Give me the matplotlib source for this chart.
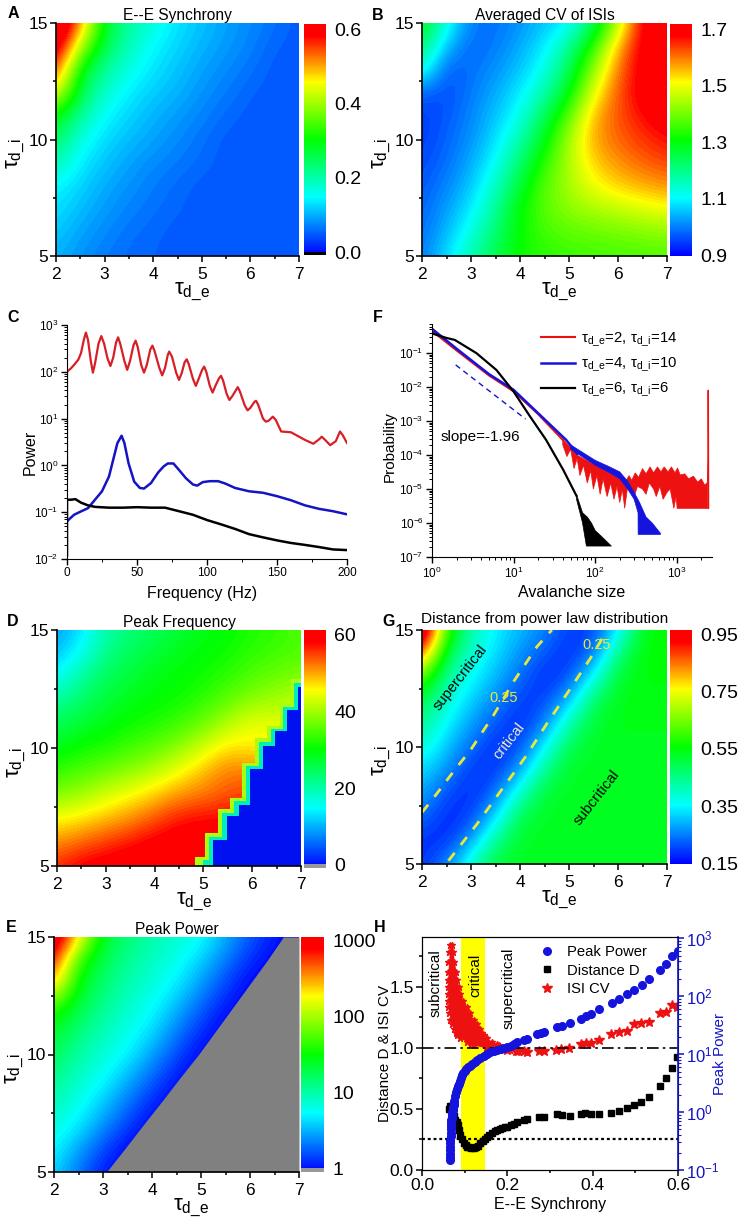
# ── imports ────────────────────────────────────────────────────────────────
import numpy as np
import matplotlib
matplotlib.use('Agg')
import matplotlib.pyplot as plt
from matplotlib.colors import LinearSegmentedColormap, Normalize
from matplotlib.cm import ScalarMappable
from matplotlib.ticker import MultipleLocator, FixedLocator, LogLocator, NullFormatter

plt.rcParams['font.family'] = ['Liberation Sans', 'DejaVu Sans']
plt.rcParams['mathtext.default'] = 'regular'
plt.rcParams['mathtext.fontset'] = 'dejavusans'

W, H = 741, 1226

# ── heat map grids (rows tau_d_i = 5..15, columns tau_d_e = 2..7) ──────────
tau_e = [2, 2.5, 3, 3.5, 4, 4.5, 5, 5.5, 6, 6.5, 7]
tau_i = [5, 6, 7, 8, 9, 10, 11, 12, 13, 14, 15]

synchrony = [
    [.105, .085, .07, .06, .055, .05, .05, .05, .05, .05, .05],
    [.12, .095, .08, .065, .058, .05, .05, .05, .05, .05, .05],
    [.135, .11, .09, .075, .065, .056, .05, .05, .05, .05, .05],
    [.148, .125, .10, .085, .07, .06, .05, .05, .05, .05, .05],
    [.20, .14, .115, .095, .08, .07, .06, .05, .05, .05, .05],
    [.25, .165, .13, .11, .095, .08, .065, .05, .05, .05, .05],
    [.30, .21, .148, .125, .105, .09, .075, .06, .05, .05, .05],
    [.45, .26, .18, .14, .12, .105, .085, .07, .055, .05, .05],
    [.56, .29, .21, .165, .135, .115, .095, .08, .065, .05, .05],
    [.64, .41, .26, .19, .148, .125, .105, .09, .075, .055, .05],
    [.70, .52, .28, .21, .17, .135, .115, .095, .08, .065, .05],
]

isi_cv = [
    [1.0, 1.08, 1.17, 1.25, 1.32, 1.34, 1.35, 1.36, 1.36, 1.37, 1.37],
    [.99, 1.05, 1.13, 1.22, 1.31, 1.36, 1.38, 1.39, 1.40, 1.41, 1.42],
    [.98, 1.03, 1.09, 1.19, 1.31, 1.38, 1.42, 1.44, 1.46, 1.48, 1.50],
    [.97, 1.01, 1.06, 1.15, 1.27, 1.38, 1.44, 1.50, 1.54, 1.56, 1.58],
    [.96, .99, 1.04, 1.11, 1.22, 1.34, 1.45, 1.54, 1.58, 1.61, 1.63],
    [.95, .98, 1.02, 1.08, 1.17, 1.29, 1.44, 1.57, 1.61, 1.64, 1.67],
    [.95, .97, 1.01, 1.06, 1.12, 1.24, 1.38, 1.56, 1.62, 1.67, 1.70],
    [.98, .96, 1.0, 1.04, 1.09, 1.17, 1.29, 1.50, 1.62, 1.70, 1.72],
    [1.15, .97, .99, 1.02, 1.06, 1.12, 1.24, 1.42, 1.60, 1.70, 1.72],
    [1.23, 1.05, .98, 1.0, 1.04, 1.09, 1.19, 1.34, 1.56, 1.70, 1.72],
    [1.31, 1.13, 1.0, .99, 1.02, 1.06, 1.09, 1.23, 1.44, 1.70, 1.72],
]

peak_freq = [
    [56, 59, 60, 61, 61, 61, 61, 61, 61, 61, 61],
    [51, 53, 55, 57, 59, 60, 60, 60, 60, 60, 60],
    [45.5, 47, 49, 51, 54, 57, 58, 58, 58, 58, 58],
    [38, 40, 43, 45.5, 48, 51, 52, 54, 55, 55, 55],
    [33, 35, 37, 39, 41.5, 45, 49, 52, 52, 52, 52],
    [29, 31, 32, 34, 36, 39, 43, 47.5, 46, 46, 46],
    [25, 27.5, 29, 31, 32, 34, 37, 41, 45, 44, 44],
    [21, 24, 27, 29, 30, 31, 33, 36, 39, 40, 42],
    [15, 21, 25, 27, 29, 30, 31, 33, 35, 37, 38],
    [11, 16, 22, 25, 27, 29, 30, 31, 33, 34, 35],
    [9, 13, 20, 23, 25, 27, 29, 30, 32, 33, 35],
]
# stair edge of the zero-frequency region in panel D
freq_edge_y = [5, 5.38, 6.41, 7.42, 7.89, 9.37, 10.42, 10.92, 11.9, 12.92]
freq_edge_x = [4.83, 5.03, 5.3, 5.55, 5.79, 6.06, 6.3, 6.56, 6.79, 6.79]
freq_mid_y = [5, 5.25, 6.25, 7.25, 7.75, 9.25, 10.25, 10.8, 11.75, 12.75]
freq_mid_x = [5.0, 5.12, 5.39, 5.63, 5.87, 6.14, 6.38, 6.63, 6.86, 6.86]
freq_blue_y = [5, 6.1, 7.1, 7.6, 9.1, 10.1, 10.7, 11.6, 12.6]
freq_blue_x = [5.2, 5.48, 5.72, 5.96, 6.23, 6.47, 6.71, 6.93, 6.93]

# log10 of peak power
peak_power = [
    [.62, .32, .04, -.03, -.04, -.04, -.04, -.04, -.04, -.04, -.04],
    [.75, .47, .20, -.03, -.04, -.04, -.04, -.04, -.04, -.04, -.04],
    [.85, .69, .42, .16, -.03, -.04, -.04, -.04, -.04, -.04, -.04],
    [.98, .80, .60, .34, .09, -.04, -.04, -.04, -.04, -.04, -.04],
    [1.1, .90, .76, .52, .28, .03, -.04, -.04, -.04, -.04, -.04],
    [1.25, 1.02, .86, .72, .46, .20, -.03, -.04, -.04, -.04, -.04],
    [1.4, 1.14, .96, .80, .65, .36, .10, -.04, -.04, -.04, -.04],
    [1.65, 1.3, 1.07, .90, .76, .53, .27, .03, -.04, -.04, -.04],
    [2.4, 1.45, 1.17, .98, .84, .70, .44, .18, -.03, -.04, -.04],
    [2.9, 1.6, 1.27, 1.07, .92, .80, .60, .34, .10, -.04, -.04],
    [3.3, 2.35, 1.38, 1.17, 1.0, .88, .78, .50, .25, .05, -.04],
]
power_edge_y = [5, 6, 7, 8, 9, 10, 11, 12, 13, 14, 15]
power_edge_x = [3.07, 3.45, 3.82, 4.2, 4.57, 4.95, 5.3, 5.65, 6.0, 6.35, 6.68]

distance = [
    [.19, .26, .40, .52, .53, .53, .53, .53, .53, .53, .53],
    [.19, .18, .28, .44, .53, .53, .53, .53, .53, .53, .53],
    [.24, .18, .20, .33, .50, .53, .53, .53, .53, .53, .53],
    [.29, .21, .18, .24, .40, .52, .53, .53, .53, .53, .53],
    [.33, .27, .19, .19, .28, .45, .53, .53, .53, .53, .53],
    [.39, .31, .24, .18, .21, .35, .50, .53, .53, .53, .53],
    [.45, .35, .28, .22, .18, .25, .42, .52, .54, .54, .54],
    [.50, .39, .32, .26, .20, .20, .30, .48, .54, .54, .54],
    [.64, .43, .36, .30, .24, .18, .21, .36, .52, .55, .55],
    [.88, .50, .39, .33, .27, .22, .18, .24, .46, .55, .56],
    [1.1, .60, .42, .35, .30, .26, .20, .20, .33, .54, .56],
]
crit_left_x = [2, 2.3, 2.66, 2.99, 3.46, 3.87, 4.35, 4.65]
crit_left_y = [7.2, 8, 9, 9.87, 11.36, 12.8, 14.3, 15]
crit_right_x = [2.54, 3.12, 3.6, 4.11, 4.55, 5.03, 5.44, 5.78]
crit_right_y = [5.14, 6.7, 8.1, 9.57, 11, 12.5, 13.8, 15]

# ── panel C: power spectra ─────────────────────────────────────────────────
red_f = [0, 0, 3, 5, 8, 10, 12, 13.5, 15, 17, 18.5, 20, 22.5, 24.5, 26.5, 29, 31, 33, 35, 36.5, 38,
         41, 43, 45, 47.5, 49, 50.5, 53, 55, 57, 59.5, 61, 62.5, 66, 68, 70, 72, 73, 75, 78, 80,
         82, 84, 85.5, 87, 90, 92, 94, 96.5, 98, 99.5, 102, 104, 106, 108.5, 110, 111.5, 114, 116,
         118, 121, 122, 123.5, 127, 129, 131, 134, 135, 136.5, 140, 142, 144, 147, 149, 153, 160,
         170, 176, 180, 182, 184, 188, 192, 195, 197, 200]
red_power = [.5, 100, 120, 140, 180, 250, 480, 690, 480, 170, 96, 150, 400, 580, 400, 190, 133, 200, 420,
             545, 400, 170, 110, 170, 370, 463, 340, 140, 96, 140, 300, 362, 280, 120, 84, 120, 230,
             270, 210, 95, 67, 95, 160, 185, 145, 70, 50, 70, 110, 129, 100, 50, 36, 50, 72, 82, 65,
             34, 25, 30, 42, 47, 38, 19, 15, 17, 23, 24, 20, 10, 8.6, 9, 11, 9.5, 5.3, 5.1, 3.5,
             2.9, 3.6, 4.1, 3.6, 2.7, 3.3, 5.3, 4.4, 3.0]
blue_f = [0, 5, 10, 15, 20, 25, 30, 33, 36, 39, 41, 44, 48, 52, 55, 60, 65, 69, 72, 76, 80, 85, 90, 93,
          97, 102, 108, 113, 120, 130, 140, 150, 160, 170, 180, 190, 200]
blue_power = [.064, .088, .104, .122, .185, .28, .58, 1.32, 3, 4.3, 3, 1.1, .45, .33, .32, .42, .7, .95,
              1.1, 1.1, .8, .53, .39, .37, .44, .46, .46, .41, .33, .28, .26, .22, .18, .14, .118,
              .105, .09]
black_f = [0, 0, 3, 6, 10, 15, 20, 30, 40, 50, 60, 70, 80, 90, 100, 110, 120, 130, 140, 150, 160, 170,
           180, 190, 200]
black_power = [.012, .185, .185, .19, .16, .14, .13, .125, .125, .128, .125, .125, .105, .088, .068, .055,
               .044, .034, .029, .025, .022, .02, .018, .016, .0155]

# ── panel F: avalanche size distributions ──────────────────────────────────
red_s = [1, 2, 5, 10, 20, 40]
red_p = [.45, .12, .022, .0075, .0016, 2.8e-4]
red_hi_s = [40, 60, 100, 200, 230, 260, 280, 310, 340, 380, 420, 470, 520, 580, 640, 700, 780, 860, 950,
            1020, 1100, 1250, 1400, 1600, 1800, 2000, 2200, 2400]
red_hi_p = [3e-4, 1e-4, 5e-5, 2e-5, 1.5e-5, 2.5e-5, 1.8e-5, 3e-5, 2.2e-5, 4e-5, 2.8e-5, 4.5e-5, 3e-5,
            4.5e-5, 3.2e-5, 4.5e-5, 3.2e-5, 4.5e-5, 3e-5, 4.2e-5, 2.6e-5, 2.8e-5, 2e-5, 2.4e-5, 1.6e-5,
            2e-5, 1.3e-5, 1.6e-5]
red_lo_s = [40, 45, 50, 55, 60, 65, 72, 80, 88, 95, 105, 115, 125, 140, 155, 170, 185, 200, 215, 230, 250,
            300, 330, 380, 420, 460, 520, 560, 620, 680, 760, 830, 920, 980, 1010, 2400]
red_lo_p = [2e-4, 9e-5, 1.5e-4, 4e-5, 8e-5, 2.5e-5, 5e-5, 1.5e-5, 3.5e-5, 1e-5, 2.5e-5, 7e-6, 2e-5, 6e-6,
            1.5e-5, 5e-6, 1.2e-5, 4e-6, 1e-5, 2.7e-6, 1.2e-5, 6e-6, 1.2e-5, 1e-5, 7e-6, 1.5e-5, 1e-5, 6e-6,
            1.2e-5, 5e-6, 8e-6, 1e-5, 2.7e-6, 6e-6, 2.7e-6, 2.7e-6]
red_spike_s = [2400, 2430, 2430, 2450]
red_spike_p = [1.5e-5, 1e-4, 8e-3, 2.7e-6]
blue_s = [1, 2, 5, 10, 20, 44, 60]
blue_p = [.52, .135, .024, .0083, .0017, 2.8e-4, 1.1e-4]
blue_hi_s = [50, 100, 150, 200, 250, 300, 350, 420, 500, 630]
blue_hi_p = [2e-4, 7e-5, 4.5e-5, 3.2e-5, 1.7e-5, 8e-6, 4e-6, 1.5e-6, 1e-6, 5e-7]
blue_lo_s = [50, 100, 150, 200, 250, 300, 335, 336, 630]
blue_lo_p = [1.5e-4, 5e-5, 3e-5, 2e-5, 1e-5, 5e-6, 2e-6, 4.6e-7, 4.6e-7]
black_s = [1, 1.5, 1.9, 3.5, 6.15, 10, 15.8, 25, 40.5, 59]
black_p = [.38, .28, .245, .10, .032, .0074, .0014, 2.8e-4, 3.7e-5, 6.3e-6]
black_hi_s = [59, 70, 80, 90, 100, 120, 158]
black_hi_p = [7e-6, 2e-6, 1.5e-6, 1e-6, 6e-7, 4e-7, 2.1e-7]
black_lo_s = [59, 70, 78, 158]
black_lo_p = [5e-6, 1e-6, 2.1e-7, 2.1e-7]
slope_s = [1.95, 14]
slope_p = [.045, .00115]

# ── panel H: statistics against synchrony ──────────────────────────────────
pw_x = [.0655, .0657, .0659, .0661, .0663, .0665, .0667, .0669, .067, .0675, .068, .0685, .069, .0695, .07,
        .071, .072, .073, .074, .075, .076, .078, .08, .082, .084, .086, .088, .091, .094,
        .097, .10, .104, .108, .113, .118, .124, .13, .137, .145, .152, .16, .168, .176, .184, .192, .20,
        .208, .215, .223, .24, .246, .27, .278, .285, .317, .327, .346, .372, .385, .395, .415, .446, .462,
        .481, .497, .516, .532, .558, .571, .587, .599]
pw_y = [.15, .17, .19, .22, .25, .29, .33, .38, .43, .5, .58, .65, .72, .8, .9, 1.0, 1.1, 1.2,
        1.3, 1.42, 1.55, 1.93, 2.2, 2.5, 2.8, 3.1, 3.5, 3.9, 4.3, 4.7, 5.1, 5.5, 5.9, 6.3, 6.8, 7.3, 7.9,
        8.5, 9.3, 10, 10.8, 11.3, 11.8, 12.2, 12.7, 13.2, 14, 15, 16, 17.5, 18, 22, 23, 24.5, 29, 31, 34,
        40, 45, 49, 59, 75, 91, 110, 129, 159, 200, 288, 355, 490, 603]
dist_x = [.064, .065, .066, .0665, .067, .068, .07, .072, .075, .078, .081, .084, .087, .09, .094, .098, .102,
          .106, .11, .115, .121, .126, .131, .137, .142, .147, .153, .158, .164, .17, .176, .182, .188, .194,
          .20, .208, .215, .223, .24, .246, .274, .285, .317, .329, .346, .372, .383, .395, .415, .444, .462,
          .481, .497, .514, .532, .558, .571, .587, .597]
dist_y = [.5, .52, .51, .5, .52, .5, .49, .47, .44, .41, .39, .37, .33, .29, .25, .22, .205, .19, .185, .18,
          .177, .185, .2, .218, .235, .25, .27, .285, .3, .315, .327, .335, .345, .35, .354, .37, .38, .395,
          .41, .415, .436, .436, .455, .45, .444, .458, .463, .455, .458, .47, .485, .504, .53, .558, .6, .687,
          .755, .836, .926]
fan_y = [1.84, 1.78, 1.7, 1.62, 1.55, 1.5, 1.44, 1.38, 1.33, 1.28, 1.226, 1.19, 1.15, 1.12, 1.1, 1.076, 1.05,
         1.03, 1.02, 1.0, .98]
fan_left = [.066, .064, .062, .061, .06, .06, .06, .061, .062, .064, .0665, .07, .074, .079, .083, .09, .105,
            .115, .121, .15, .176]
fan_right = [.07, .073, .076, .08, .083, .086, .09, .097, .105, .113, .121, .129, .137, .141, .145, .152, .165,
             .175, .18, .195, .207]
cv_x = [.20, .22, .225, .24, .245, .275, .285, .315, .325, .345, .372, .385, .395, .415, .444, .462, .481,
        .497, .514, .532, .558, .571, .587, .597]
cv_y = [.98, .97, .97, .97, .965, .97, .97, .985, .99, 1.0, 1.03, 1.04, 1.04, 1.06, 1.11, 1.13, 1.14, 1.19,
        1.2, 1.21, 1.28, 1.29, 1.35, 1.33]

# ── shared styling ─────────────────────────────────────────────────────────
jet = LinearSegmentedColormap.from_list(
    'origin_rainbow',
    [(0, '#0000ff'), (.25, '#00ffff'), (.5, '#00ff00'), (.75, '#ffff00'), (.95, '#ff0000'), (1, '#ff0000')],
    N=256)
jet_bands = jet.resampled(80)

TAU_E = r'$\tau_{d\_e}$'
TAU_I = r'$\tau_{d\_i}$'

fig = plt.figure(figsize=(W / 100, H / 100), dpi=100)


def add_ax(left, top, right, bottom):
    return fig.add_axes([left / W, 1 - bottom / H, (right - left) / W, (bottom - top) / H])


def letter(s, x, y):
    fig.text(x / W, 1 - y / H, s, fontsize=11.5, fontweight='bold', ha='center', va='center')


def heatmap(box, cbox, data, vmin, vmax, ticks, labels, title, label_x, floor=None, title_size=11.2, title_pad=2.5):
    ax = add_ax(*box)
    # half a cell past the axes so grid nodes sit on the axis limits
    ax.imshow(data, origin='lower', extent=[1.75, 7.25, 4.5, 15.5], aspect='auto', cmap=jet_bands,
              vmin=vmin, vmax=vmax, interpolation='bicubic', interpolation_stage='data')
    ax.set_xlim(2, 7)
    ax.set_ylim(5, 15)
    ax.xaxis.set_major_locator(MultipleLocator(1))
    ax.xaxis.set_minor_locator(MultipleLocator(.5))
    ax.yaxis.set_major_locator(FixedLocator([5, 10, 15]))
    ax.yaxis.set_minor_locator(FixedLocator([7.5, 12.5]))
    ax.tick_params(which='major', length=4, width=1.1, labelsize=12.5, pad=2)
    ax.tick_params(axis='x', which='major', pad=4)
    ax.tick_params(which='minor', length=2.5, width=1.1)
    ax.spines[['top', 'right']].set_visible(False)
    ax.spines[['left', 'bottom']].set_linewidth(1.2)
    ax.set_title(title, fontsize=title_size, pad=title_pad)
    ax.set_xlabel(TAU_E, fontsize=16, labelpad=0)
    ax.xaxis.set_label_coords(.56, -.105)
    ax.set_ylabel(TAU_I, fontsize=16)
    ax.yaxis.set_label_coords(label_x, .44)
    ax.set_axisbelow(False)

    cax = add_ax(*cbox)
    cb = fig.colorbar(ScalarMappable(Normalize(vmin, vmax), jet), cax=cax)
    cb.set_ticks(ticks, labels=labels)
    cb.minorticks_off()
    cb.outline.set_visible(False)
    cax.tick_params(length=0, labelsize=14, pad=6)
    if floor is not None:
        cax.axhspan(vmin, vmin + .015 * (vmax - vmin), color=floor, lw=0, zorder=5)
    return ax


# ── panel A ────────────────────────────────────────────────────────────────
ax_a = heatmap((56, 23, 299, 256), (304, 24, 326, 255), synchrony, -.007, .614,
               [0, .2, .4, .6], ['0.0', '0.2', '0.4', '0.6'], 'E--E Synchrony', -.118, floor='black')

# ── panel B ────────────────────────────────────────────────────────────────
ax_b = heatmap((422, 23, 667, 256), (670, 24, 692, 256), isi_cv, .898, 1.719,
               [.9, 1.1, 1.3, 1.5, 1.7], ['0.9', '1.1', '1.3', '1.5', '1.7'], 'Averaged CV of ISIs', -.118)

# ── panel D ────────────────────────────────────────────────────────────────
ax_d = heatmap((57, 630, 301, 866), (304, 630, 326, 868), peak_freq, -.87, 61.3,
               [0, 20, 40, 60], ['0', '20', '40', '60'], 'Peak Frequency', -.118, floor='#999999')
ax_d.fill_betweenx(freq_edge_y, freq_edge_x, 7, step='post', color='#a8ff10', lw=0)
ax_d.fill_betweenx(freq_mid_y, freq_mid_x, 7, step='post', color='#00eebb', lw=0)
ax_d.fill_betweenx(freq_blue_y, freq_blue_x, 7, step='post', color='#0010f0', lw=0)

# ── panel E ────────────────────────────────────────────────────────────────
ax_e = heatmap((54, 937, 299, 1172), (301, 937, 324, 1172), peak_power, -.044, 3.05,
               [0, 1, 2, 3], ['1', '10', '100', '1000'], 'Peak Power', -.114, floor='#999999')
ax_e.fill_betweenx(power_edge_y, power_edge_x, 7, color='#808080', lw=0)

# ── panel G ────────────────────────────────────────────────────────────────
ax_g = heatmap((422, 630, 667, 864), (670, 630, 692, 864), distance, .148, .965,
               [.15, .35, .55, .75, .95], ['0.15', '0.35', '0.55', '0.75', '0.95'],
               'Distance from power law distribution', -.118, title_size=11.1, title_pad=5)
ax_g.plot(crit_left_x, crit_left_y, color='#e8e83a', lw=2, dashes=(3.6, 3.6))
ax_g.plot(crit_right_x, crit_right_y, color='#e8e83a', lw=2, dashes=(3.6, 3.6))
ax_g.text(3.67, 12.1, '0.25', color='#e8e83a', fontsize=10.5, ha='center', va='center')
ax_g.text(5.57, 14.36, '0.25', color='#e8e83a', fontsize=10.5, ha='center', va='center')
ax_g.text(2.78, 12.97, 'supercritical', rotation=52, fontsize=10.5, ha='center', va='center')
ax_g.text(3.77, 10.26, 'critical', rotation=52, fontsize=10.5, color='#f0f0c0', ha='center', va='center')
ax_g.text(5.56, 7.83, 'subcritical', rotation=52, fontsize=10.5, ha='center', va='center')

# ── panel C ────────────────────────────────────────────────────────────────
ax_c = add_ax(67, 325, 347, 559)
ax_c.semilogy(red_f, red_power, color='#d81e26', lw=1.6)
ax_c.semilogy(blue_f, blue_power, color='#1414c4', lw=1.8)
ax_c.semilogy(black_f, black_power, color='black', lw=1.8)
ax_c.set_xlim(0, 200)
ax_c.set_ylim(1e-2, 1e3)
ax_c.xaxis.set_major_locator(MultipleLocator(50))
ax_c.xaxis.set_minor_locator(MultipleLocator(25))
ax_c.yaxis.set_major_locator(LogLocator(base=10, numticks=10))
ax_c.yaxis.set_minor_locator(LogLocator(base=10, subs=np.arange(2, 10), numticks=10))
ax_c.yaxis.set_minor_formatter(NullFormatter())
ax_c.tick_params(which='major', length=4, width=1, labelsize=8.5, pad=2)
ax_c.tick_params(which='minor', length=2, width=.7)
ax_c.spines[['top', 'right']].set_visible(False)
ax_c.set_xlabel('Frequency (Hz)', fontsize=11.5)
ax_c.xaxis.set_label_coords(.482, -.115)
ax_c.set_ylabel('Power', fontsize=11.5)
ax_c.yaxis.set_label_coords(-.106, .457)

# ── panel F ────────────────────────────────────────────────────────────────
ax_f = add_ax(432, 324, 712, 557)
ax_f.fill(red_hi_s + red_lo_s[::-1], red_hi_p + red_lo_p[::-1], color='#ee1111', lw=.5)
ax_f.loglog(red_s, red_p, color='#ee1111', lw=1.5, label=TAU_E + '=2, ' + TAU_I + '=14')
ax_f.loglog(red_spike_s, red_spike_p, color='#ee1111', lw=1)
ax_f.fill(blue_hi_s + blue_lo_s[::-1], blue_hi_p + blue_lo_p[::-1], color='#1414dd', lw=.5)
ax_f.loglog(blue_s, blue_p, color='#1414dd', lw=1.8, label=TAU_E + '=4, ' + TAU_I + '=10')
ax_f.fill(black_hi_s + black_lo_s[::-1], black_hi_p + black_lo_p[::-1], color='black', lw=.5)
ax_f.loglog(black_s, black_p, color='black', lw=1.6, label=TAU_E + '=6, ' + TAU_I + '=6')
ax_f.loglog(slope_s, slope_p, color='#1414c4', lw=1, dashes=(4, 3))
ax_f.text(3.9, 3.5e-4, 'slope=-1.96', fontsize=11, ha='center', va='center')
ax_f.set_xlim(1, 2700)
ax_f.set_ylim(1e-7, .72)
ax_f.xaxis.set_major_locator(LogLocator(base=10, numticks=6))
ax_f.xaxis.set_minor_locator(LogLocator(base=10, subs=np.arange(2, 10), numticks=6))
ax_f.yaxis.set_major_locator(LogLocator(base=10, numticks=10))
ax_f.yaxis.set_minor_locator(LogLocator(base=10, subs=np.arange(2, 10), numticks=10))
ax_f.xaxis.set_minor_formatter(NullFormatter())
ax_f.yaxis.set_minor_formatter(NullFormatter())
ax_f.tick_params(which='major', length=4, width=1, labelsize=8.5, pad=2)
ax_f.tick_params(which='minor', length=2, width=.7)
ax_f.spines[['top', 'right']].set_visible(False)
ax_f.set_xlabel('Avalanche size', fontsize=11.5)
ax_f.xaxis.set_label_coords(.5, -.12)
ax_f.set_ylabel('Probability', fontsize=11)
ax_f.yaxis.set_label_coords(-.126, .472)
ax_f.legend(loc='upper right', bbox_to_anchor=(.885, .985), frameon=False, fontsize=10.7, handlelength=2.3,
            handletextpad=.4, labelspacing=.5, borderpad=0, borderaxespad=.2)

# ── panel H ────────────────────────────────────────────────────────────────
ax_h = add_ax(422, 937, 678, 1170)
ax_h.axvspan(.0923, .1487, color='#ffff00', lw=0, zorder=0)
ax_h.fill_betweenx(fan_y, fan_left, fan_right, color='#ee1111', lw=0, zorder=2)
ax_h.plot(fan_left, fan_y, ls='none', marker='*', ms=5, color='#ee1111', zorder=2)
ax_h.plot(fan_right, fan_y, ls='none', marker='*', ms=5, color='#ee1111', zorder=2)
ln_cv, = ax_h.plot(cv_x, cv_y, ls='none', marker='*', ms=7, color='#ee1111', zorder=2, label='ISI CV')
ln_d, = ax_h.plot(dist_x, dist_y, ls='none', marker='s', ms=5, color='black', zorder=3, label='Distance D')
ax_h.axhline(1.0, color='black', lw=1.2, ls=(0, (7, 2.5, 1.5, 2.5)), zorder=4)
ax_h.axhline(.25, color='black', lw=1.6, ls=(0, (1.3, 1.3)), zorder=4)
ax_h.set_xlim(0, .6)
ax_h.set_ylim(0, 1.905)
ax_h.xaxis.set_major_locator(MultipleLocator(.2))
ax_h.xaxis.set_minor_locator(MultipleLocator(.1))
ax_h.yaxis.set_major_locator(MultipleLocator(.5))
ax_h.yaxis.set_minor_locator(MultipleLocator(.25))
ax_h.tick_params(which='major', length=4, width=1.1, labelsize=12.5, pad=2)
ax_h.tick_params(which='minor', length=2.5, width=1.1)
ax_h.set_xlabel('E--E Synchrony', fontsize=11.5)
ax_h.xaxis.set_label_coords(.5, -.115)
ax_h.set_ylabel('Distance D & ISI CV', fontsize=11)
ax_h.yaxis.set_label_coords(-.118, .5)
ax_h.text(.031, 1.53, 'subcritical', rotation=90, fontsize=11, ha='center', va='center')
ax_h.text(.125, 1.595, 'critical', rotation=90, fontsize=11, ha='center', va='center')
ax_h.text(.203, 1.485, 'supercritical', rotation=90, fontsize=11, ha='center', va='center')

ax_r = ax_h.twinx()
ln_pw, = ax_r.semilogy(pw_x, pw_y, ls='none', marker='o', ms=5.5, color='#1414dd', zorder=5, label='Peak Power')
ax_r.set_ylim(.1, 1050)
ax_r.yaxis.set_major_locator(LogLocator(base=10, numticks=6))
ax_r.yaxis.set_minor_locator(LogLocator(base=10, subs=np.arange(2, 10), numticks=6))
ax_r.yaxis.set_minor_formatter(NullFormatter())
ax_r.tick_params(axis='y', which='major', length=4, width=1.1, labelsize=12, pad=2, colors='#1414c4')
ax_r.tick_params(axis='y', which='minor', length=2.5, width=.8, colors='#1414c4')
ax_r.spines['right'].set_color('#1414c4')
ax_r.spines['right'].set_linewidth(1.2)
ax_r.set_ylabel('Peak Power', fontsize=11, color='#1414c4')
ax_r.yaxis.set_label_coords(1.137, .5)
ax_r.legend(handles=[ln_pw, ln_d, ln_cv], loc='upper right', bbox_to_anchor=(.88, .965), frameon=False,
            fontsize=10.6, handletextpad=.35, labelspacing=.3, borderpad=0, borderaxespad=0)

# ── panel letters ──────────────────────────────────────────────────────────
letter('A', 13, 14)
letter('B', 378, 15)
letter('C', 13, 317)
letter('F', 378, 317)
letter('D', 13, 621)
letter('G', 389, 621)
letter('E', 11, 928)
letter('H', 380, 928)

fig.savefig('out.png', dpi=100)
